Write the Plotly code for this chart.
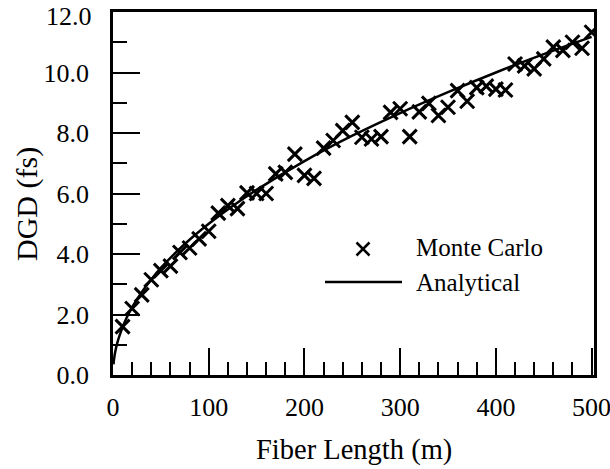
import plotly.graph_objects as go

# Monte Carlo simulation results
mc_length = [10, 20, 30, 40, 50, 60, 70, 80, 90, 100,
             110, 120, 130, 140, 150, 160, 170, 180, 190, 200,
             210, 220, 230, 240, 250, 260, 270, 280, 290, 300,
             310, 320, 330, 340, 350, 360, 370, 380, 390, 400,
             410, 420, 430, 440, 450, 460, 470, 480, 490, 500]
mc_dgd = [1.6, 2.2, 2.65, 3.15, 3.45, 3.6, 4.05, 4.2, 4.5, 4.75,
          5.35, 5.6, 5.5, 6.02, 6.0, 6.0, 6.65, 6.7, 7.3, 6.6,
          6.5, 7.5, 7.75, 8.08, 8.35, 7.86, 7.8, 7.88, 8.68, 8.8,
          7.88, 8.7, 8.98, 8.58, 8.85, 9.4, 9.05, 9.5, 9.55, 9.45,
          9.42, 10.28, 10.22, 10.12, 10.45, 10.84, 10.73, 11.0, 10.8, 11.33]

# Analytical curve
an_length = [0.5, 1, 2, 3, 5, 7, 10, 15, 20, 30, 40, 50, 75, 100, 125, 150,
             200, 250, 300, 350, 400, 450, 500]
an_dgd = [0.35, 0.5, 0.71, 0.87, 1.12, 1.32, 1.58, 1.94, 2.24, 2.74, 3.16, 3.54,
          4.33, 5.0, 5.59, 6.12, 7.07, 7.91, 8.66, 9.35, 10.0, 10.61, 11.18]

x_ticks = [0, 100, 200, 300, 400, 500]
y_ticks = [0, 2, 4, 6, 8, 10, 12]
y_tick_text = ["0.0", "2.0", "4.0", "6.0", "8.0", "10.0", "12.0"]

FONT = "Liberation Serif, Times New Roman, serif"

fig = go.Figure()
fig.add_trace(go.Scatter(
    x=an_length, y=an_dgd, mode="lines", line=dict(color="black", width=2.5, shape="spline"),
    name="Analytical", showlegend=False))
fig.add_trace(go.Scatter(
    x=mc_length, y=mc_dgd, mode="markers",
    marker=dict(symbol="x-thin", size=14, line=dict(color="black", width=3), color="black"),
    name="Monte Carlo", showlegend=False))

L, R, T, B = 113, 16, 12, 94
W, H = 610, 469
pw, ph = W - L - R, H - T - B

def px(x):
    return (x - L) / pw

def py(y):
    return (H - B - y) / ph

shapes = []
# legend "x" symbol
cx, cy, hs = 363, 249, 6.5
shapes.append(dict(type="line", xref="paper", yref="paper", x0=px(cx - hs), x1=px(cx + hs),
                   y0=py(cy - hs), y1=py(cy + hs), line=dict(color="black", width=2.5)))
shapes.append(dict(type="line", xref="paper", yref="paper", x0=px(cx - hs), x1=px(cx + hs),
                   y0=py(cy + hs), y1=py(cy - hs), line=dict(color="black", width=2.5)))
# legend line
shapes.append(dict(type="line", xref="paper", yref="paper", x0=px(325), x1=px(402),
                   y0=py(282), y1=py(282), line=dict(color="black", width=2.5)))

annotations = [
    dict(text="Monte Carlo", xref="paper", yref="paper", x=px(414), y=py(247),
         xanchor="left", yanchor="middle", showarrow=False, font=dict(family=FONT, size=25, color="black")),
    dict(text="Analytical", xref="paper", yref="paper", x=px(414), y=py(282),
         xanchor="left", yanchor="middle", showarrow=False, font=dict(family=FONT, size=25, color="black")),
    dict(text="Fiber Length (m)", xref="paper", yref="paper", x=0.5, y=py(450),
         xanchor="center", yanchor="middle", showarrow=False, font=dict(family=FONT, size=28.5, color="black")),
    dict(text="DGD (fs)", xref="paper", yref="paper", x=px(27), y=py(204), textangle=-90,
         xanchor="center", yanchor="middle", showarrow=False, font=dict(family=FONT, size=30, color="black")),
    # top tick label placed as text so it stays inside the page
    dict(text=y_tick_text[-1], xref="paper", yref="paper", x=px(94), y=py(16),
         xanchor="right", yanchor="middle", showarrow=False, font=dict(family=FONT, size=26, color="black")),
]

axis_common = dict(showgrid=False, zeroline=False, showline=True, linecolor="black", linewidth=2.5,
                   mirror=True, ticks="inside", tickcolor="black", tickwidth=2, ticklen=27,
                   ticklabeloverflow="allow",
                   tickfont=dict(family=FONT, size=26, color="black"))

fig.update_layout(
    width=W, height=H, margin=dict(l=L, r=R, t=T, b=B, autoexpand=False),
    paper_bgcolor="white", plot_bgcolor="white",
    shapes=shapes, annotations=annotations,
    xaxis=dict(range=[0, 502.5], tickvals=x_ticks, ticktext=[str(v) for v in x_ticks],
               minor=dict(dtick=20, tick0=0, ticks="inside", ticklen=13, tickwidth=2, tickcolor="black"),
               ticklabelstandoff=7, **axis_common),
    yaxis=dict(range=[0, 12], tickvals=y_ticks, ticktext=y_tick_text[:-1] + [""],
               minor=dict(dtick=1, tick0=0, ticks="inside", ticklen=14, tickwidth=2, tickcolor="black"),
               ticklabelstandoff=16, **axis_common),
)

fig.write_html("out.html")
